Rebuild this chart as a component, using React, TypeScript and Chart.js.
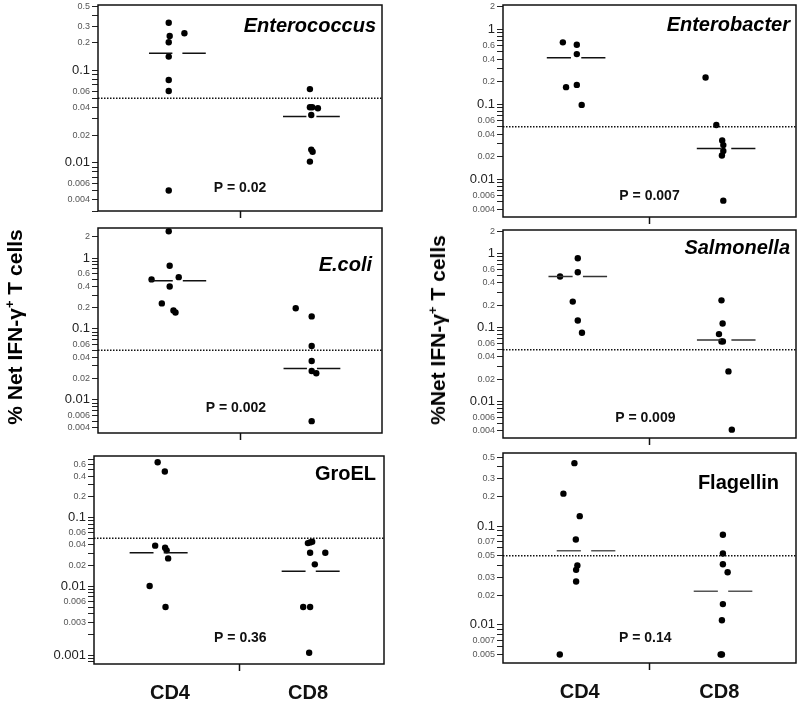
import { useEffect, useRef } from "react"
import { Chart, registerables } from "chart.js"

Chart.register(...registerables)

const FONT = 'Arial, "Liberation Sans", Helvetica, sans-serif'
Chart.defaults.font.family = FONT

// groups and cut-off line
const groups = ["CD4", "CD8"]
const groupX = [-0.5, 0.5]
const THRESHOLD = 0.05
const X_MIN = -1.05
const X_MAX = 1.05

// Enterococcus
const enterococcusCD4 = [0.33, 0.237, 0.254, 0.203, 0.142, 0.079, 0.06, 0.005]
const enterococcusCD4X = [-0.527, -0.52, -0.411, -0.527, -0.527, -0.527, -0.527, -0.527]
const enterococcusCD8 = [0.063, 0.04, 0.04, 0.039, 0.033, 0.0139, 0.0132, 0.0103]
const enterococcusCD8X = [0.517, 0.517, 0.534, 0.576, 0.527, 0.527, 0.537, 0.517]
const enterococcusMedians = [0.154, 0.0318]
const enterococcusTicks = [0.5, 0.3, 0.2, 0.1, 0.06, 0.04, 0.02, 0.01, 0.006, 0.004]

// E.coli
const ecoliCD4 = [2.38, 0.776, 0.499, 0.537, 0.397, 0.229, 0.182, 0.17]
const ecoliCD4X = [-0.527, -0.52, -0.654, -0.453, -0.52, -0.578, -0.492, -0.477]
const ecoliCD8 = [0.196, 0.15, 0.0575, 0.0353, 0.0255, 0.0237, 0.005]
const ecoliCD8X = [0.412, 0.53, 0.53, 0.53, 0.53, 0.564, 0.53]
const ecoliMedians = [0.476, 0.0276]
const ecoliTicks = [2, 1, 0.6, 0.4, 0.2, 0.1, 0.06, 0.04, 0.02, 0.01, 0.006, 0.004]

// GroEL
const groelCD4 = [0.64, 0.469, 0.0391, 0.0365, 0.0334, 0.0255, 0.0101, 0.005]
const groelCD4X = [-0.589, -0.537, -0.607, -0.535, -0.524, -0.513, -0.647, -0.532]
const groelCD8 = [0.0426, 0.0436, 0.0447, 0.0309, 0.0309, 0.0209, 0.005, 0.005, 0.00108]
const groelCD8X = [0.499, 0.515, 0.53, 0.515, 0.625, 0.549, 0.465, 0.515, 0.508]
const groelMedians = [0.0309, 0.0166]
const groelTicks = [0.6, 0.4, 0.2, 0.1, 0.06, 0.04, 0.02, 0.01, 0.006, 0.003, 0.001]

// Enterobacter
const enterobacterCD4 = [0.668, 0.621, 0.466, 0.169, 0.181, 0.098]
const enterobacterCD4X = [-0.621, -0.521, -0.521, -0.598, -0.521, -0.486]
const enterobacterCD8 = [0.227, 0.0529, 0.033, 0.0286, 0.0238, 0.0208, 0.0052]
const enterobacterCD8X = [0.402, 0.479, 0.521, 0.529, 0.529, 0.519, 0.529]
const enterobacterMedians = [0.416, 0.0258]
const enterobacterTicks = [2, 1, 0.6, 0.4, 0.2, 0.1, 0.06, 0.04, 0.02, 0.01, 0.006, 0.004]

// Salmonella
const salmonellaCD4 = [0.861, 0.556, 0.486, 0.223, 0.124, 0.0847]
const salmonellaCD4X = [-0.514, -0.514, -0.641, -0.55, -0.514, -0.484]
const salmonellaCD8 = [0.232, 0.113, 0.0811, 0.0646, 0.0646, 0.0254, 0.00415]
const salmonellaCD8X = [0.516, 0.524, 0.498, 0.516, 0.526, 0.566, 0.59]
const salmonellaMedians = [0.486, 0.0673]
const salmonellaTicks = [2, 1, 0.6, 0.4, 0.2, 0.1, 0.06, 0.04, 0.02, 0.01, 0.006, 0.004]

// Flagellin
const flagellinCD4 = [0.434, 0.213, 0.126, 0.0732, 0.0398, 0.036, 0.0274, 0.005]
const flagellinCD4X = [-0.538, -0.617, -0.5, -0.528, -0.517, -0.526, -0.526, -0.643]
const flagellinCD8 = [0.0816, 0.0527, 0.041, 0.034, 0.0162, 0.0111, 0.005, 0.005]
const flagellinCD8X = [0.526, 0.526, 0.526, 0.56, 0.526, 0.519, 0.51, 0.519]
const flagellinMedians = [0.0561, 0.0218]
const flagellinTicks = [0.5, 0.3, 0.2, 0.1, 0.07, 0.05, 0.03, 0.02, 0.01, 0.007, 0.005]

const panels = [
  { title: "Enterococcus", italic: true, p: "P = 0.02", cd4: enterococcusCD4, cd4X: enterococcusCD4X, cd8: enterococcusCD8, cd8X: enterococcusCD8X, medians: enterococcusMedians, ticks: enterococcusTicks, yRange: [0.003, 0.515], showGroups: false },
  { title: "E.coli", italic: true, p: "P = 0.002", cd4: ecoliCD4, cd4X: ecoliCD4X, cd8: ecoliCD8, cd8X: ecoliCD8X, medians: ecoliMedians, ticks: ecoliTicks, yRange: [0.0034, 2.65], showGroups: false },
  { title: "GroEL", italic: false, p: "P = 0.36", cd4: groelCD4, cd4X: groelCD4X, cd8: groelCD8, cd8X: groelCD8X, medians: groelMedians, ticks: groelTicks, yRange: [0.00074, 0.79], showGroups: true },
  { title: "Enterobacter", italic: true, p: "P = 0.007", cd4: enterobacterCD4, cd4X: enterobacterCD4X, cd8: enterobacterCD8, cd8X: enterobacterCD8X, medians: enterobacterMedians, ticks: enterobacterTicks, yRange: [0.00315, 2.1], showGroups: false },
  { title: "Salmonella", italic: true, p: "P = 0.009", cd4: salmonellaCD4, cd4X: salmonellaCD4X, cd8: salmonellaCD8, cd8X: salmonellaCD8X, medians: salmonellaMedians, ticks: salmonellaTicks, yRange: [0.0032, 2.07], showGroups: false },
  { title: "Flagellin", italic: false, p: "P = 0.14", cd4: flagellinCD4, cd4X: flagellinCD4X, cd8: flagellinCD8, cd8X: flagellinCD8X, medians: flagellinMedians, ticks: flagellinTicks, yRange: [0.0041, 0.55], showGroups: true },
]

// layout: plot box [left, top, right, bottom] in page px, title offset, P-value anchor (data units), median centres
const layout = [
  { box: [98, 5, 383, 211], titleOff: [6, 21], pAt: [0, 0.0053], medianX: [-0.463, 0.528], medianColor: "#111" },
  { box: [98, 228, 383, 433], titleOff: [10, 37], pAt: [-0.03, 0.0076], medianX: [-0.46, 0.532], medianColor: "#111" },
  { box: [94, 456, 385, 664], titleOff: [8, 18], pAt: [0.01, 0.00176], medianX: [-0.582, 0.519], medianColor: "#111" },
  { box: [503, 5, 797, 217], titleOff: [6, 20], pAt: [0, 0.0059], medianX: [-0.526, 0.549], medianColor: "#111" },
  { box: [503, 230, 797, 438], titleOff: [6, 18], pAt: [-0.03, 0.006], medianX: [-0.514, 0.55], medianColor: "#333" },
  { box: [503, 453, 797, 663], titleOff: [17, 30], pAt: [-0.03, 0.00726], medianX: [-0.455, 0.527], medianColor: "#555" },
]

const Y_AXIS_W = 60
const PAD_TOP = 12
const PAD_RIGHT = 3
const MEDIAN_HALF = 0.21
const MEDIAN_GAP = 0.037

function logTicks(min: number, max: number) {
  const out: number[] = []
  for (let k = Math.floor(Math.log10(min)); k <= Math.ceil(Math.log10(max)); k++) {
    for (let n = 1; n <= 9; n++) {
      const v = Number((n * Math.pow(10, k)).toPrecision(6))
      if (v >= min && v <= max) out.push(v)
    }
  }
  return out
}

const isDecade = (v: number) => Math.abs(Math.log10(v) - Math.round(Math.log10(v))) < 1e-6

function Panel({ index }: { index: number }) {
  const chartRef = useRef<HTMLCanvasElement>(null)
  const spec = panels[index]
  const lay = layout[index]
  const [l, t, r, b] = lay.box
  const xH = spec.showGroups ? 46 : 14
  const width = r - l + Y_AXIS_W + PAD_RIGHT
  const height = b - t + PAD_TOP + xH

  useEffect(() => {
    if (!chartRef.current) return
    const ctx = chartRef.current.getContext("2d")
    if (!ctx) return

    const medianLine = (c: number, m: number) => [
      { x: c - MEDIAN_HALF, y: m },
      { x: c - MEDIAN_GAP, y: m },
      { x: c, y: null },
      { x: c + MEDIAN_GAP, y: m },
      { x: c + MEDIAN_HALF, y: m },
    ]
    const dots = (vals: number[], xs: number[]) => vals.map((v, i) => ({ x: xs[i], y: v }))

    const decorations = {
      id: "decorations",
      afterDraw(chart: any) {
        const { ctx: c, chartArea: a, scales } = chart
        c.save()
        c.strokeStyle = "#111"
        c.lineWidth = 1.5
        c.strokeRect(a.left, a.top, a.right - a.left, a.bottom - a.top)
        c.fillStyle = "#000"
        c.font = `${spec.italic ? "italic " : ""}bold 20px ${FONT}`
        c.textAlign = "right"
        c.textBaseline = "middle"
        c.fillText(spec.title, a.right - lay.titleOff[0], a.top + lay.titleOff[1])
        c.font = `bold 14px ${FONT}`
        c.textAlign = "center"
        c.fillStyle = "#111"
        c.fillText(spec.p, scales.x.getPixelForValue(lay.pAt[0]), scales.y.getPixelForValue(lay.pAt[1]))
        c.restore()
      },
    }

    const [yMin, yMax] = spec.yRange
    const chart = new Chart(ctx, {
      type: "scatter",
      data: {
        datasets: [
          {
            type: "line",
            data: [{ x: X_MIN, y: THRESHOLD }, { x: X_MAX, y: THRESHOLD }],
            borderColor: "#111",
            borderWidth: 1.5,
            borderDash: [1.5, 1.5],
            pointRadius: 0,
          },
          {
            type: "line",
            data: medianLine(lay.medianX[0], spec.medians[0]),
            borderColor: lay.medianColor,
            borderWidth: 1.5,
            pointRadius: 0,
            spanGaps: false,
          },
          {
            type: "line",
            data: medianLine(lay.medianX[1], spec.medians[1]),
            borderColor: lay.medianColor,
            borderWidth: 1.5,
            pointRadius: 0,
            spanGaps: false,
          },
          {
            data: dots(spec.cd4, spec.cd4X),
            backgroundColor: "#000",
            borderWidth: 0,
            pointRadius: 3.2,
          },
          {
            data: dots(spec.cd8, spec.cd8X),
            backgroundColor: "#000",
            borderWidth: 0,
            pointRadius: 3.2,
          },
        ] as any,
      },
      options: {
        responsive: true,
        maintainAspectRatio: false,
        animation: false,
        layout: { padding: { top: PAD_TOP, right: PAD_RIGHT, left: 0, bottom: 0 } },
        plugins: { legend: { display: false }, tooltip: { enabled: false } },
        scales: {
          x: {
            type: "linear",
            min: X_MIN,
            max: X_MAX,
            border: { display: false },
            afterBuildTicks: (s: any) => {
              s.ticks = [groupX[0], 0, groupX[1]].map((v) => ({ value: v }))
            },
            afterFit: (s: any) => {
              s.height = xH
            },
            grid: {
              drawOnChartArea: false,
              tickLength: 7,
              tickWidth: 1.5,
              tickColor: (c: any) => (c.tick && Math.abs(c.tick.value) < 1e-9 ? "#111" : "rgba(0,0,0,0)"),
            },
            ticks: {
              autoSkip: false,
              maxRotation: 0,
              padding: 10,
              color: "#111",
              font: { size: 20, weight: "bold" },
              callback: (v: any) => {
                if (!spec.showGroups) return ""
                const i = groupX.findIndex((g) => Math.abs(g - Number(v)) < 1e-9)
                return i >= 0 ? groups[i] : ""
              },
            },
          },
          y: {
            type: "logarithmic",
            min: yMin,
            max: yMax,
            border: { display: false },
            afterBuildTicks: (s: any) => {
              s.ticks = logTicks(yMin, yMax).map((v) => ({ value: v }))
            },
            afterFit: (s: any) => {
              s.width = Y_AXIS_W
            },
            grid: { drawOnChartArea: false, tickLength: 6, color: "#222", lineWidth: 1 },
            ticks: {
              autoSkip: false,
              padding: 2,
              callback: (v: any) => {
                const hit = spec.ticks.find((lab) => Math.abs(Number(v) - lab) < lab * 1e-6)
                return hit === undefined ? "" : String(hit)
              },
              font: (c: any) => (c.tick && isDecade(c.tick.value) ? { size: 13 } : { size: 9 }),
              color: (c: any) => (c.tick && isDecade(c.tick.value) ? "#222" : "#555"),
            },
          },
        },
      } as any,
      plugins: [decorations],
    })

    return () => chart.destroy()
  }, [])

  return (
    <div style={{ position: "absolute", left: l - Y_AXIS_W, top: t - PAD_TOP, width, height }}>
      <canvas ref={chartRef} />
    </div>
  )
}

const titleStyle = {
  position: "absolute" as const,
  transform: "translate(-50%, -50%) rotate(-90deg)",
  whiteSpace: "nowrap" as const,
  font: `bold 21px ${FONT}`,
  color: "#000",
}

export default function App() {
  return (
    <div style={{ position: "absolute", left: 0, top: 0, width: 800, height: 702, overflow: "hidden", background: "#fff" }}>
      {panels.map((_, i) => (
        <Panel key={i} index={i} />
      ))}
      <div style={{ ...titleStyle, left: 15, top: 327 }}>
        % Net IFN-γ<span style={{ fontSize: 13, verticalAlign: "super", lineHeight: 0 }}>+</span> T cells
      </div>
      <div style={{ ...titleStyle, left: 438, top: 330 }}>
        %Net IFN-γ<span style={{ fontSize: 13, verticalAlign: "super", lineHeight: 0 }}>+</span> T cells
      </div>
    </div>
  )
}
